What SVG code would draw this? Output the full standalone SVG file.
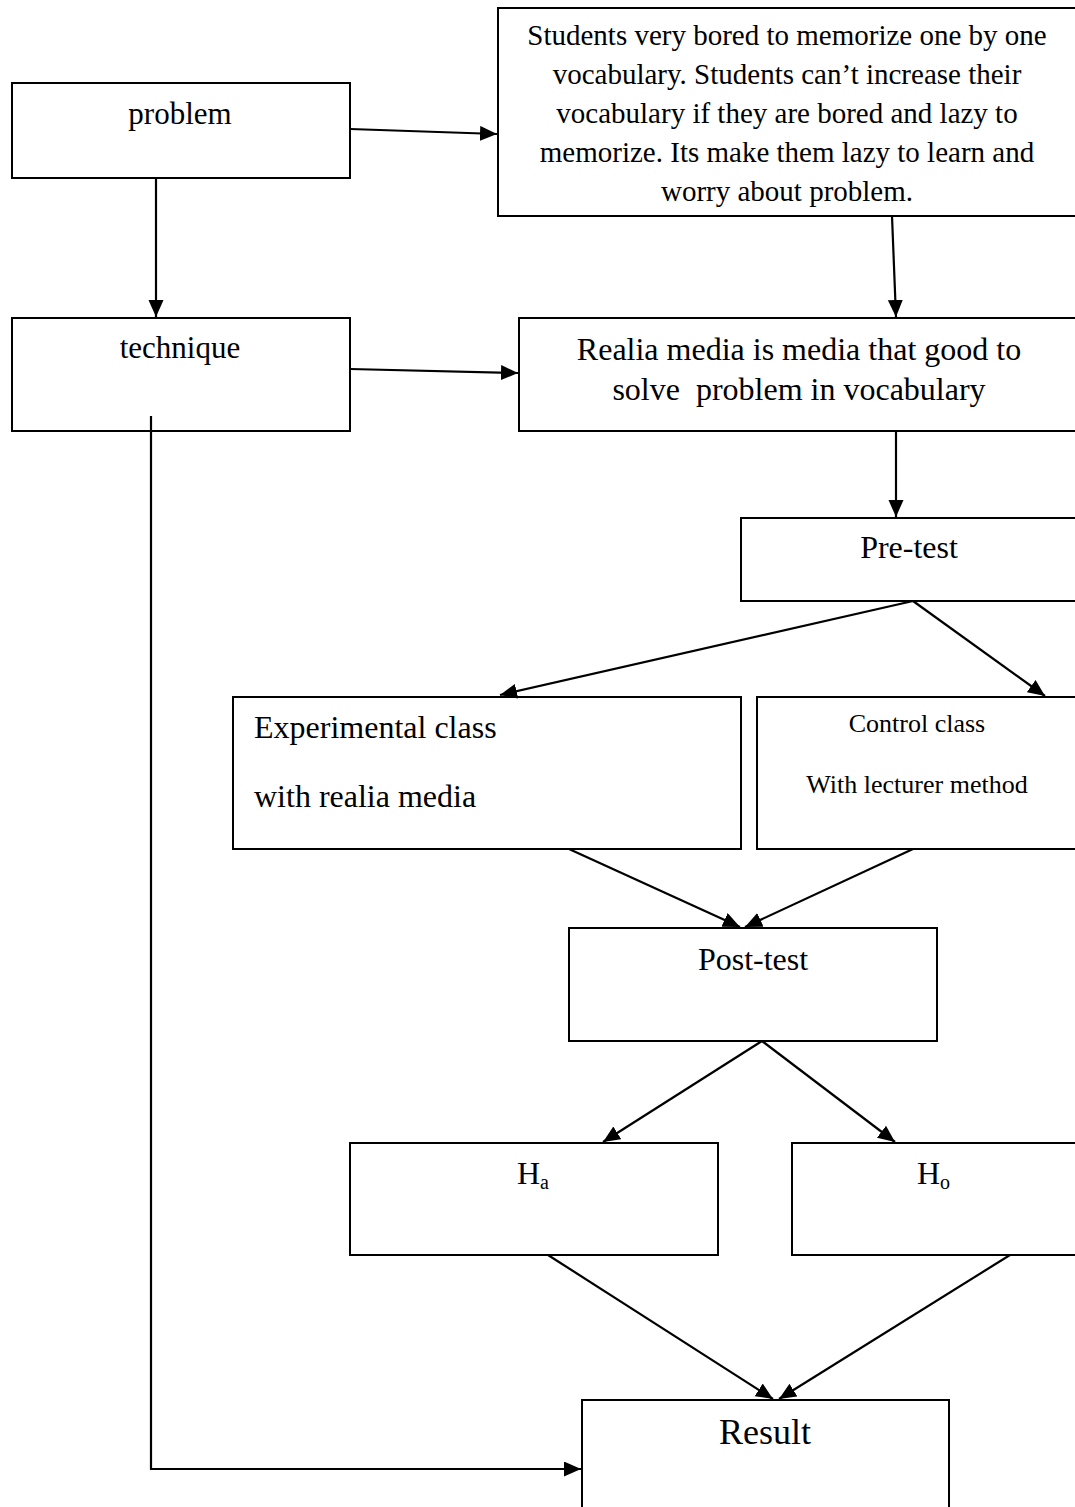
<svg xmlns="http://www.w3.org/2000/svg" width="1075" height="1507" viewBox="0 0 1075 1507">
<style>
.box{fill:#fff;stroke:#000;stroke-width:2}
.c{fill:none;stroke:#000;stroke-width:2.2}
text{font-family:"Liberation Serif","Times New Roman",serif;fill:#000}
.m{text-anchor:middle}
</style>
<defs>
<marker id="ah" markerUnits="userSpaceOnUse" markerWidth="20" markerHeight="16" refX="17" refY="7.5" orient="auto">
<path d="M0,0 L17,7.5 L0,15 z" fill="#000"/>
</marker>
</defs>
<rect width="1075" height="1507" fill="#fff"/>
<g id="problem"><rect class="box" x="12" y="83" width="338" height="95"/><text class="m" x="180" y="124" font-size="31">problem</text></g>
<g id="students"><rect class="box" x="498" y="8" width="590" height="208"/>
<text class="m" font-size="29"><tspan x="787" y="45">Students very bored to memorize one by one</tspan><tspan x="787" y="84">vocabulary. Students can’t increase their</tspan><tspan x="787" y="123">vocabulary if they are bored and lazy to</tspan><tspan x="787" y="162">memorize. Its make them lazy to learn and</tspan><tspan x="787" y="201">worry about problem.</tspan></text></g>
<g id="technique"><rect class="box" x="12" y="318" width="338" height="113"/><text class="m" x="180" y="358" font-size="31">technique</text></g>
<g id="realia"><rect class="box" x="519" y="318" width="570" height="113"/>
<text class="m" font-size="32" xml:space="preserve"><tspan x="799" y="360">Realia media is media that good to</tspan><tspan x="799" y="400">solve  problem in vocabulary</tspan></text></g>
<g id="pretest"><rect class="box" x="741" y="518" width="350" height="83"/><text class="m" x="909" y="558" font-size="32">Pre-test</text></g>
<g id="experimental"><rect class="box" x="233" y="697" width="508" height="152"/>
<text font-size="32"><tspan x="254" y="738">Experimental class</tspan><tspan x="254" y="807">with realia media</tspan></text></g>
<g id="control"><rect class="box" x="757" y="697" width="330" height="152"/>
<text class="m" font-size="26"><tspan x="917" y="732">Control class</tspan><tspan x="917" y="793">With lecturer method</tspan></text></g>
<g id="posttest"><rect class="box" x="569" y="928" width="368" height="113"/><text class="m" x="753" y="970" font-size="32">Post-test</text></g>
<g id="ha"><rect class="box" x="350" y="1143" width="368" height="112"/><text x="517" y="1184" font-size="32">H<tspan font-size="20" dy="5">a</tspan></text></g>
<g id="ho"><rect class="box" x="792" y="1143" width="295" height="112"/><text x="917" y="1184" font-size="32">H<tspan font-size="20" dy="5">o</tspan></text></g>
<g id="result"><rect class="box" x="582" y="1400" width="367" height="120"/><text class="m" x="765" y="1444" font-size="36">Result</text></g>
<g id="connectors">
<line class="c" x1="350" y1="129" x2="497" y2="134" marker-end="url(#ah)"/>
<line class="c" x1="156" y1="178" x2="156" y2="317" marker-end="url(#ah)"/>
<line class="c" x1="892" y1="216" x2="896" y2="317" marker-end="url(#ah)"/>
<line class="c" x1="350" y1="369" x2="518" y2="373" marker-end="url(#ah)"/>
<line class="c" x1="896" y1="431" x2="896" y2="517" marker-end="url(#ah)"/>
<line class="c" x1="913" y1="601" x2="500" y2="695" marker-end="url(#ah)"/>
<line class="c" x1="913" y1="601" x2="1045" y2="696" marker-end="url(#ah)"/>
<line class="c" x1="569" y1="849" x2="740" y2="927" marker-end="url(#ah)"/>
<line class="c" x1="913" y1="849" x2="745" y2="927" marker-end="url(#ah)"/>
<line class="c" x1="762" y1="1041" x2="603" y2="1142" marker-end="url(#ah)"/>
<line class="c" x1="762" y1="1041" x2="895" y2="1142" marker-end="url(#ah)"/>
<line class="c" x1="548" y1="1255" x2="773" y2="1399" marker-end="url(#ah)"/>
<line class="c" x1="1010" y1="1255" x2="779" y2="1399" marker-end="url(#ah)"/>
<polyline class="c" points="151,416 151,1469 581,1469" marker-end="url(#ah)"/>
</g>
</svg>
